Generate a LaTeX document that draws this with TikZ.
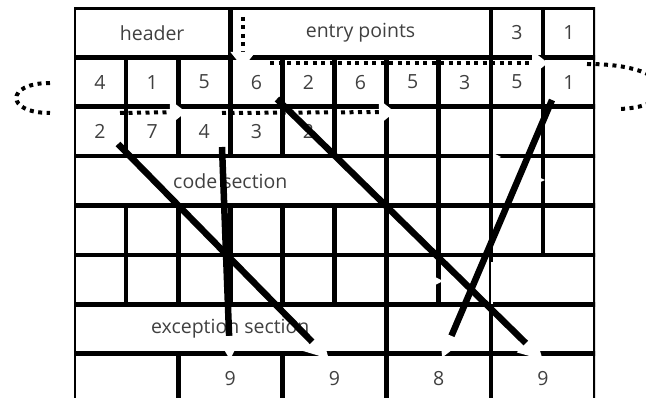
\documentclass[tikz,border=0pt]{standalone}
\usepackage{fontspec}
\setmainfont{Open Sans}
\usetikzlibrary{arrows.meta}

\begin{document}
\begin{tikzpicture}[x=1pt, y=-1pt,
    cell/.style={draw, line width=4.6pt, minimum width=52.1pt, minimum height=49.4pt, inner sep=0pt, text=black!75, font=\fontsize{19.5}{22}\selectfont},
    cols/.style={minimum width={#1*52.1pt}},
    jump/.style={line width=4pt, dash pattern=on 4pt off 4.5pt, -{Triangle[white, length=16pt, width=24pt]}},
    wrap/.style={line width=4pt, dash pattern=on 4pt off 4.5pt},
    branch/.style={line width=6.5pt, -{Triangle[white, length=24pt, width=24pt]}},
    smudge/.style={draw=white, line width=3pt}
]
    \useasboundingbox (0,0) rectangle (646,398);

    % the table
    \begin{scope}
    \clip (74,8) rectangle (595,398);
    \node[cell, cols=3] (header) at (152.15,32.7) {header};
    \node[cell, cols=5] (entry) at (360.55,32.7) {entry points};
    \node[cell] (ep3) at (516.85,32.7) {3};
    \node[cell] (ep1) at (568.95,32.7) {1};

    \foreach \v [count=\i from 0] in {4,1,5,6,2,6,5,3,5,1}
        \node[cell] (t\i) at ({100.05+52.1*\i},82.1) {\v};
    \foreach \v [count=\i from 0] in {2,7,4,3,2,{},{},{},{},{}}
        \node[cell] (u\i) at ({100.05+52.1*\i},131.5) {\v};

    \node[cell, cols=6] (code) at (230.3,180.9) {code section};
    \foreach \i in {6,...,9}
        \node[cell] (c\i) at ({100.05+52.1*\i},180.9) {};
    \foreach \i in {0,...,9}
        \node[cell] (b\i) at ({100.05+52.1*\i},230.3) {};
    \foreach \i in {0,...,7}
        \node[cell] (d\i) at ({100.05+52.1*\i},279.7) {};
    \node[cell, cols=2] (d89) at (542.9,279.7) {};

    \node[cell, cols=6] (exc) at (230.3,329.1) {exception section};
    \node[cell, cols=2] (x67) at (438.7,329.1) {};
    \node[cell, cols=2] (x89) at (542.9,329.1) {};

    \node[cell, cols=2] (y01) at (126.1,378.5) {};
    \node[cell, cols=2] (y23) at (230.3,378.5) {9};
    \node[cell, cols=2] (y45) at (334.5,378.5) {9};
    \node[cell, cols=2] (y67) at (438.7,378.5) {8};
    \node[cell, cols=2] (y89) at (542.9,378.5) {9};
    \end{scope}

    % dotted jumps
    \coordinate (ep-from) at (243,17);
    \coordinate (ep-to) at (243,68);
    \coordinate (run1) at (270,63);
    \coordinate (run1-to) at (548,63);
    \coordinate (wrap-r) at (587,64);
    \coordinate (wrap-r2) at (618,109);
    \coordinate (wrap-l) at (50,83);
    \coordinate (wrap-l2) at (50,113);
    \coordinate (run2) at (120,113);
    \coordinate (run2-to) at (186,112);
    \coordinate (run3) at (222,113);
    \coordinate (run3-to) at (395,112);

    \draw[jump] (ep-from) -- (ep-to);
    \draw[jump] (run1) -- (run1-to);
    \draw[wrap] (wrap-r) .. controls (680,64) and (680,108) .. (wrap-r2);
    \draw[wrap] (wrap-l) .. controls (5,83) and (5,113) .. (wrap-l2);
    \draw[jump] (run2) -- (run2-to);
    \draw[jump] (run3) -- (run3-to);

    % branches to the handlers
    \coordinate (br1) at (118,144);
    \coordinate (br1-to) at (329,359);
    \coordinate (br2) at (222,147);
    \coordinate (br2-to) at (230,360);
    \coordinate (br3) at (277,99);
    \coordinate (br3-to) at (543,360);
    \coordinate (br4) at (552,100);
    \coordinate (br4-to) at (442,358);

    \draw[branch] (br1) -- (br1-to);
    \draw[branch] (br2) -- (br2-to);
    \draw[branch] (br3) -- (br3-to);
    \draw[branch] (br4) -- (br4-to);

    % white marks on the grid
    \draw[smudge] (494.5,158) -- (494.5,202);
    \fill[white] (493,153) -- (501,157) -- (493,161) -- cycle;
    \fill[white] (536,176) -- (545,180) -- (536,184) -- cycle;
    \draw[smudge, line width=2pt] (491.5,262) -- (491.5,304);
    \fill[white] (435,277) -- (443,281) -- (435,285) -- cycle;
\end{tikzpicture}
\end{document}
